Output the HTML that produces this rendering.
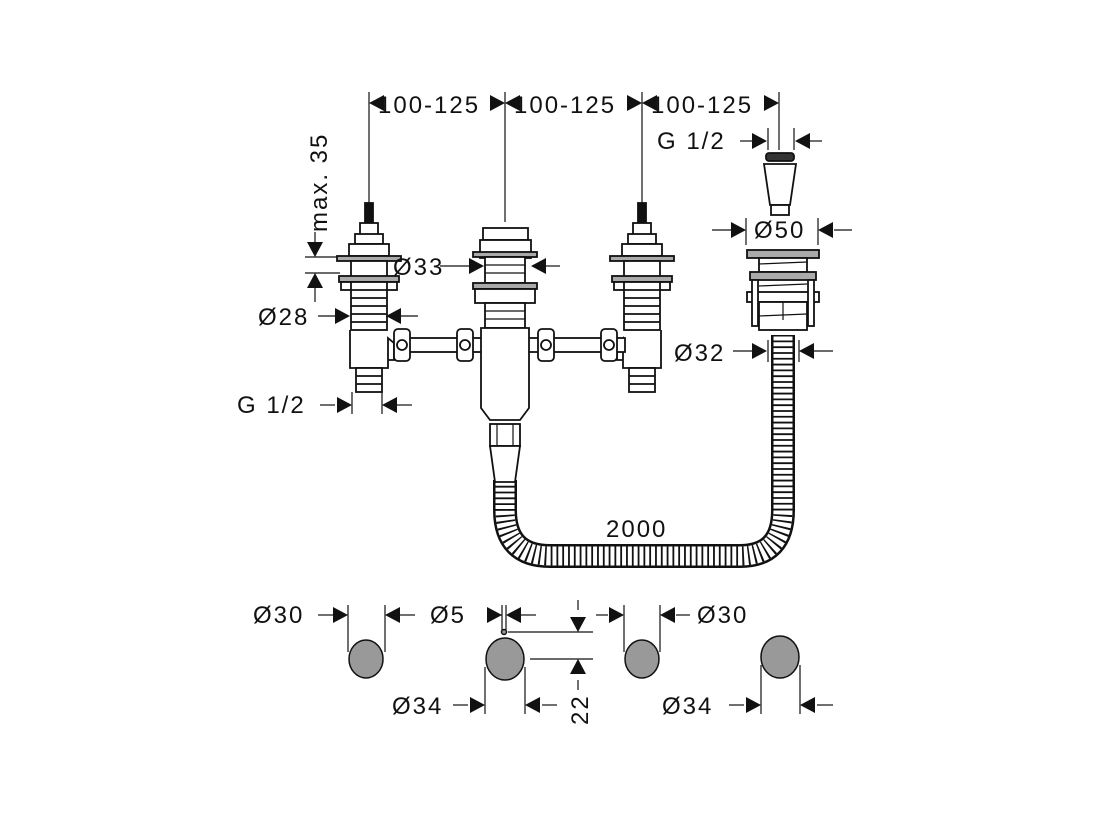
<!DOCTYPE html>
<html><head><meta charset="utf-8"><style>
html,body{margin:0;padding:0;background:#fff}
svg{display:block}
text{font-family:"Liberation Sans","DejaVu Sans",sans-serif;font-size:24px;fill:#111;letter-spacing:2px}
</style></head><body>
<svg width="1093" height="819" viewBox="0 0 1093 819" xmlns="http://www.w3.org/2000/svg">
<defs>
<g id="ar"><polygon points="0,0 -15,-8 -15,8" fill="#111"/></g>
<g id="al"><polygon points="0,0 15,-8 15,8" fill="#111"/></g>
<g id="ad"><polygon points="0,0 -8,-15 8,-15" fill="#111"/></g>
<g id="au"><polygon points="0,0 -8,15 8,15" fill="#111"/></g>
<g id="valve" stroke="#111" stroke-width="1.8" fill="#fff">
  <rect x="-4" y="-165" width="8" height="22" fill="#111"/>
  <rect x="-9" y="-145" width="18" height="12"/>
  <rect x="-14" y="-134" width="28" height="10"/>
  <rect x="-20" y="-124" width="40" height="12"/>
  <rect x="-32" y="-112" width="64" height="5" fill="#aaa"/>
  <rect x="-18" y="-107" width="36" height="20"/>
  <rect x="-30" y="-92" width="60" height="6" fill="#aaa"/>
  <rect x="-28" y="-86" width="56" height="8"/>
  <rect x="-18" y="-86" width="36" height="48"/>
  <line x1="-18" y1="-78" x2="18" y2="-78"/><line x1="-18" y1="-70" x2="18" y2="-70"/><line x1="-18" y1="-62" x2="18" y2="-62"/><line x1="-18" y1="-54" x2="18" y2="-54"/><line x1="-18" y1="-46" x2="18" y2="-46"/>
  <path d="M-19 -38 L-19 0 L19 0 L19 -30 L25 -25 L25 -8 L19 -8"/>
  <rect x="-13" y="0" width="26" height="24"/>
  <line x1="-13" y1="8" x2="13" y2="8"/><line x1="-13" y1="16" x2="13" y2="16"/>
</g>
</defs>

<g stroke="#111" stroke-width="1.2">
<line x1="369" y1="92" x2="369" y2="205"/>
<line x1="505" y1="92" x2="505" y2="222"/>
<line x1="642" y1="92" x2="642" y2="205"/>
<line x1="779" y1="92" x2="779" y2="150"/>
</g>
<use href="#al" x="369" y="103"/><use href="#ar" x="505" y="103"/><use href="#al" x="505" y="103"/>
<use href="#ar" x="642" y="103"/><use href="#al" x="642" y="103"/><use href="#ar" x="779" y="103"/>
<text x="378" y="113">100-125</text><text x="514" y="113">100-125</text><text x="651" y="113">100-125</text>

<text transform="translate(327,232) rotate(-90)">max. 35</text>
<g stroke="#111" stroke-width="1.2">
<line x1="315" y1="232" x2="315" y2="245"/><line x1="305" y1="257" x2="340" y2="257"/>
<line x1="305" y1="273" x2="340" y2="273"/><line x1="315" y1="287" x2="315" y2="302"/>
</g>
<use href="#ad" x="315" y="257"/><use href="#au" x="315" y="273"/>

<path d="M505 480 L505 510 Q505 556 550 556 L740 556 Q783 556 783 510 L783 335" fill="none" stroke="#111" stroke-width="24"/>
<path d="M505 480 L505 510 Q505 556 550 556 L740 556 Q783 556 783 510 L783 335" fill="none" stroke="#fff" stroke-width="19"/>
<path d="M505 480 L505 510 Q505 556 550 556 L740 556 Q783 556 783 510 L783 335" fill="none" stroke="#111" stroke-width="19" stroke-dasharray="1.8 4"/>

<use href="#valve" x="369" y="368"/>
<g transform="translate(642,368) scale(-1,1)"><use href="#valve"/></g>

<g stroke="#111" stroke-width="1.8" fill="#fff">
<rect x="395" y="338" width="230" height="14"/>
<rect x="394" y="329" width="16" height="32" rx="4"/>
<rect x="457" y="329" width="16" height="32" rx="4"/>
<rect x="538" y="329" width="16" height="32" rx="4"/>
<rect x="601" y="329" width="16" height="32" rx="4"/>
<circle cx="402" cy="345" r="5"/><circle cx="465" cy="345" r="5"/><circle cx="546" cy="345" r="5"/><circle cx="609" cy="345" r="5"/>
<rect x="483" y="228" width="45" height="12"/>
<rect x="480" y="240" width="51" height="18"/>
<rect x="473" y="252" width="64" height="5" fill="#aaa"/>
<rect x="485" y="257" width="40" height="26"/>
<rect x="473" y="283" width="64" height="6" fill="#aaa"/>
<rect x="475" y="289" width="60" height="14"/>
<rect x="485" y="303" width="40" height="25"/>
<path d="M481 328 L481 408 L490 420 L520 420 L529 408 L529 328 Z"/>
<rect x="490" y="424" width="30" height="22"/>
<path d="M490 446 L520 446 L515 482 L495 482 Z"/>
</g>
<g stroke="#111" stroke-width="1.2">
<line x1="485" y1="265" x2="525" y2="265"/><line x1="485" y1="273" x2="525" y2="273"/>
<line x1="485" y1="311" x2="525" y2="311"/><line x1="485" y1="319" x2="525" y2="319"/>
<line x1="497" y1="424" x2="497" y2="446"/><line x1="513" y1="424" x2="513" y2="446"/>
</g>

<g stroke="#111" stroke-width="1.8" fill="#fff">
<rect x="766" y="153" width="28" height="8" rx="3" fill="#333"/>
<path d="M764 164 L796 164 L790 205 L770 205 Z"/>
<rect x="771" y="205" width="18" height="10"/>
<rect x="747" y="250" width="72" height="8" fill="#aaa"/>
<rect x="759" y="258" width="48" height="14"/>
<rect x="750" y="272" width="66" height="8" fill="#aaa"/>
<rect x="747" y="292" width="72" height="10"/>
<rect x="752" y="280" width="6" height="46"/><rect x="808" y="280" width="6" height="46"/>
<rect x="759" y="302" width="48" height="28"/>
</g>
<g stroke="#111" stroke-width="1.2">
<line x1="759" y1="264" x2="807" y2="262"/><line x1="759" y1="286" x2="807" y2="284"/>
<line x1="759" y1="316" x2="807" y2="314"/><line x1="783" y1="302" x2="783" y2="320"/>
</g>

<g stroke="#111" stroke-width="1.2">
<line x1="440" y1="266" x2="470" y2="266"/><line x1="545" y1="266" x2="560" y2="266"/>
<line x1="318" y1="316" x2="335" y2="316"/><line x1="400" y1="316" x2="418" y2="316"/>
<line x1="320" y1="405" x2="335" y2="405"/><line x1="352" y1="392" x2="352" y2="414"/><line x1="382" y1="392" x2="382" y2="414"/><line x1="397" y1="405" x2="412" y2="405"/>
<line x1="740" y1="141" x2="752" y2="141"/><line x1="768" y1="128" x2="768" y2="150"/><line x1="794" y1="128" x2="794" y2="150"/><line x1="808" y1="141" x2="822" y2="141"/>
<line x1="712" y1="230" x2="732" y2="230"/><line x1="746" y1="218" x2="746" y2="245"/><line x1="818" y1="218" x2="818" y2="245"/><line x1="834" y1="230" x2="852" y2="230"/>
<line x1="733" y1="351" x2="752" y2="351"/><line x1="768" y1="340" x2="768" y2="362"/><line x1="799" y1="340" x2="799" y2="362"/><line x1="814" y1="351" x2="833" y2="351"/>
</g>
<use href="#ar" x="484" y="266"/><use href="#al" x="531" y="266"/>
<use href="#ar" x="350" y="316"/><use href="#al" x="386" y="316"/>
<use href="#ar" x="352" y="405"/><use href="#al" x="382" y="405"/>
<use href="#ar" x="767" y="141"/><use href="#al" x="795" y="141"/>
<use href="#ar" x="746" y="230"/><use href="#al" x="818" y="230"/>
<use href="#ar" x="767" y="351"/><use href="#al" x="799" y="351"/>
<text x="393" y="275">Ø33</text>
<text x="258" y="325">Ø28</text>
<text x="237" y="413">G 1/2</text>
<text x="657" y="149">G 1/2</text>
<text x="754" y="238">Ø50</text>
<text x="674" y="361">Ø32</text>
<text x="606" y="537">2000</text>

<g stroke="#111" stroke-width="1.5" fill="#999">
<ellipse cx="366" cy="659" rx="17" ry="19"/>
<ellipse cx="505" cy="659" rx="19" ry="21"/>
<ellipse cx="642" cy="659" rx="17" ry="19"/>
<ellipse cx="780" cy="657" rx="19" ry="21"/>
<circle cx="504" cy="632" r="2.5"/>
</g>
<g stroke="#111" stroke-width="1.2">
<line x1="348" y1="605" x2="348" y2="652"/><line x1="385" y1="605" x2="385" y2="652"/>
<line x1="318" y1="615" x2="333" y2="615"/><line x1="400" y1="615" x2="415" y2="615"/>
<line x1="502" y1="605" x2="502" y2="630"/><line x1="506" y1="605" x2="506" y2="630"/>
<line x1="488" y1="615" x2="502" y2="615"/><line x1="520" y1="615" x2="536" y2="615"/>
<line x1="508" y1="632" x2="593" y2="632"/><line x1="530" y1="659" x2="593" y2="659"/>
<line x1="578" y1="600" x2="578" y2="610"/><line x1="578" y1="680" x2="578" y2="690"/>
<line x1="624" y1="605" x2="624" y2="652"/><line x1="660" y1="605" x2="660" y2="652"/>
<line x1="596" y1="615" x2="608" y2="615"/><line x1="676" y1="615" x2="690" y2="615"/>
<line x1="485" y1="667" x2="485" y2="714"/><line x1="525" y1="667" x2="525" y2="714"/>
<line x1="453" y1="705" x2="468" y2="705"/><line x1="542" y1="705" x2="557" y2="705"/>
<line x1="761" y1="665" x2="761" y2="714"/><line x1="800" y1="665" x2="800" y2="714"/>
<line x1="729" y1="705" x2="744" y2="705"/><line x1="817" y1="705" x2="833" y2="705"/>
</g>
<use href="#ar" x="348" y="615"/><use href="#al" x="385" y="615"/>
<use href="#ar" x="502" y="615"/><use href="#al" x="506" y="615"/>
<use href="#ad" x="578" y="632"/><use href="#au" x="578" y="659"/>
<use href="#ar" x="624" y="615"/><use href="#al" x="660" y="615"/>
<use href="#ar" x="485" y="705"/><use href="#al" x="525" y="705"/>
<use href="#ar" x="761" y="705"/><use href="#al" x="800" y="705"/>
<text x="253" y="623">Ø30</text>
<text x="430" y="623">Ø5</text>
<text x="697" y="623">Ø30</text>
<text x="392" y="714">Ø34</text>
<text transform="translate(588,725) rotate(-90)">22</text>
<text x="662" y="714">Ø34</text>
</svg>
</body></html>
